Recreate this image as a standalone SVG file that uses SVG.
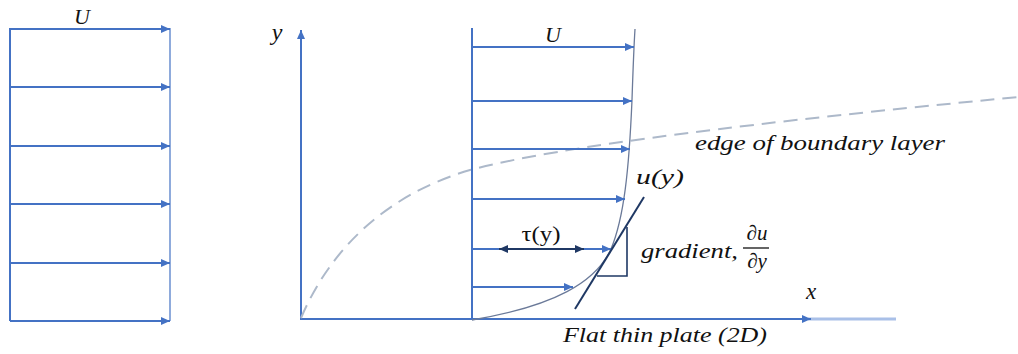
<svg xmlns="http://www.w3.org/2000/svg" width="1018" height="354" viewBox="0 0 1018 354">
<style>
.blue{stroke:#4472C4;stroke-width:2;fill:none}
.thin{stroke:#4472C4;stroke-width:1.2;fill:none}
.navy{stroke:#1F3864;stroke-width:2;fill:none}
.math{font-family:"Liberation Serif","DejaVu Serif",serif;font-style:italic;fill:#111}
.up{font-family:"Liberation Serif","DejaVu Serif",serif;fill:#111}
</style>
<defs>
<marker id="ab" markerUnits="userSpaceOnUse" markerWidth="10" markerHeight="8" refX="9" refY="4" orient="auto"><path d="M0,0 L9,4 L0,8 Z" fill="#4472C4"/></marker>
<marker id="an" markerUnits="userSpaceOnUse" markerWidth="10" markerHeight="8" refX="9" refY="4" orient="auto-start-reverse"><path d="M0,0 L9,4 L0,8 Z" fill="#1F3864"/></marker>
</defs>
<g id="uniform-flow">
<line class="blue" x1="10" y1="28" x2="10" y2="321"/>
<line class="thin" x1="170" y1="28" x2="170" y2="321"/>
<line class="blue" x1="10" y1="29" x2="170" y2="29" marker-end="url(#ab)"/>
<line class="blue" x1="10" y1="87" x2="170" y2="87" marker-end="url(#ab)"/>
<line class="blue" x1="10" y1="146" x2="170" y2="146" marker-end="url(#ab)"/>
<line class="blue" x1="10" y1="204" x2="170" y2="204" marker-end="url(#ab)"/>
<line class="blue" x1="10" y1="263" x2="170" y2="263" marker-end="url(#ab)"/>
<line class="blue" x1="10" y1="321" x2="170" y2="321" marker-end="url(#ab)"/>
<text class="math" x="82" y="24" font-size="22" text-anchor="middle">U</text>
</g>
<g id="axes">
<line class="blue" x1="301" y1="320" x2="301" y2="30" marker-end="url(#ab)"/>
<line x1="808" y1="319" x2="896" y2="319" stroke="#A9C0E8" stroke-width="3"/>
<line class="blue" x1="301" y1="319" x2="811" y2="319" stroke-width="2.5" marker-end="url(#ab)"/>
<text class="math" x="277" y="40" font-size="24" text-anchor="middle">y</text>
<text class="math" x="811" y="299" font-size="23" text-anchor="middle">x</text>
<text class="math" x="665" y="342" font-size="22" text-anchor="middle" textLength="204" lengthAdjust="spacingAndGlyphs">Flat thin plate (2D)</text>
</g>
<g id="boundary-layer-edge">
<path d="M301,318 C330,250 385,195 470,170 C560,146 760,122 1018,97" fill="none" stroke="#ADB9CA" stroke-width="2" stroke-dasharray="14,8"/>
<text class="math" x="820" y="150" font-size="22" text-anchor="middle" textLength="250" lengthAdjust="spacingAndGlyphs">edge of boundary layer</text>
</g>
<g id="velocity-profile">
<line class="blue" x1="472" y1="28" x2="472" y2="320"/>
<path d="M472,320 C555,306 596,282 611,249 C624,218 629,170 632,100 C633,70 634,45 635,29" fill="none" stroke="#6B7A99" stroke-width="1.3"/>
<line class="blue" x1="472" y1="47" x2="634" y2="47" marker-end="url(#ab)"/>
<line class="blue" x1="472" y1="101" x2="632" y2="101" marker-end="url(#ab)"/>
<line class="blue" x1="472" y1="149" x2="630" y2="149" marker-end="url(#ab)"/>
<line class="blue" x1="472" y1="199" x2="625" y2="199" marker-end="url(#ab)"/>
<line class="blue" x1="472" y1="249" x2="611" y2="249" marker-end="url(#ab)"/>
<line class="blue" x1="472" y1="287" x2="573" y2="287" marker-end="url(#ab)"/>
<text class="math" x="553" y="42" font-size="22" text-anchor="middle">U</text>
<text class="math" x="660" y="184" font-size="22" text-anchor="middle" textLength="48" lengthAdjust="spacingAndGlyphs">u(y)</text>
</g>
<g id="shear-stress">
<line class="navy" x1="499" y1="249" x2="584" y2="249" marker-start="url(#an)" marker-end="url(#an)"/>
<text class="up" x="541" y="241" font-size="22" text-anchor="middle" textLength="39" lengthAdjust="spacingAndGlyphs">τ(y)</text>
</g>
<g id="gradient">
<line class="navy" x1="575" y1="309" x2="644" y2="197"/>
<polyline points="627,227 627,276 597,276" fill="none" stroke="#1F3864" stroke-width="1.6"/>
<text class="math" x="641" y="258" font-size="22" textLength="97" lengthAdjust="spacingAndGlyphs">gradient,</text>
<text class="math" x="757" y="240" font-size="21" text-anchor="middle">∂u</text>
<line x1="743" y1="248" x2="769" y2="248" stroke="#111" stroke-width="1.3"/>
<text class="math" x="757" y="268" font-size="21" text-anchor="middle">∂y</text>
</g>
</svg>
